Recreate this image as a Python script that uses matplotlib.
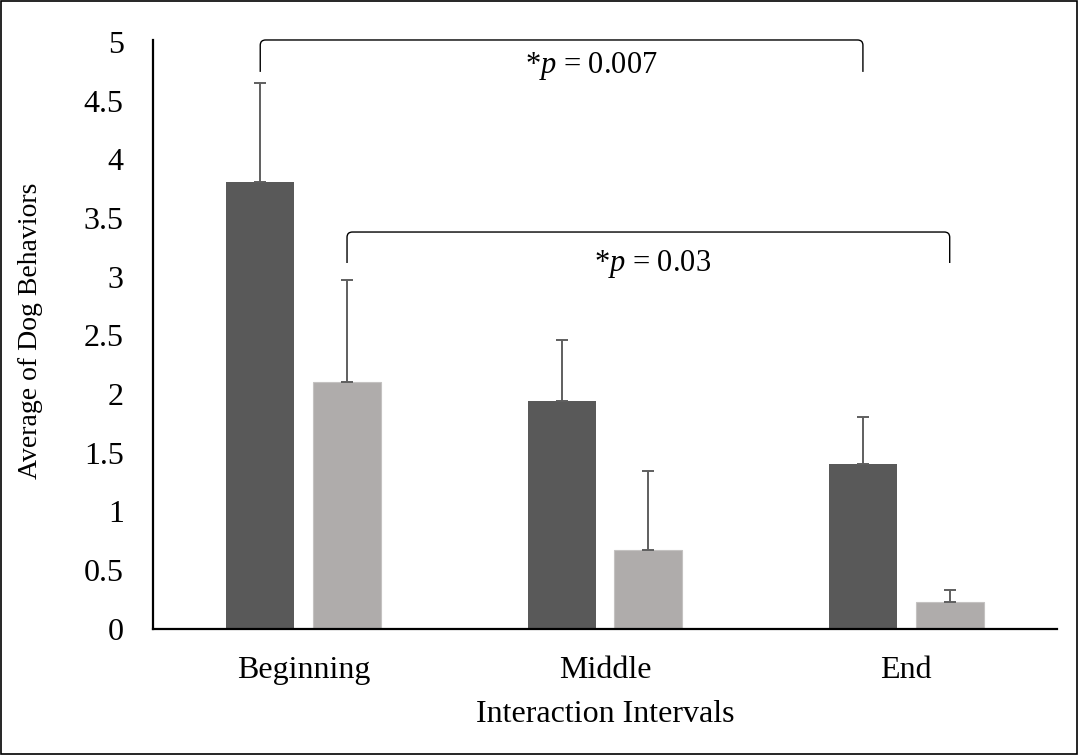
import matplotlib
matplotlib.use("Agg")
import matplotlib.pyplot as plt
import numpy as np
from matplotlib.path import Path
from matplotlib.patches import PathPatch, Rectangle

categories = ["Beginning", "Middle", "End"]
dark_vals = [3.81, 1.94, 1.40]
dark_err = [0.84, 0.52, 0.40]
light_vals = [2.10, 0.67, 0.225]
light_err = [0.87, 0.67, 0.105]
yticks = [0, 0.5, 1, 1.5, 2, 2.5, 3, 3.5, 4, 4.5, 5]
ytick_labels = ["0", "0.5", "1", "1.5", "2", "2.5", "3", "3.5", "4", "4.5", "5"]
annot1 = "*$p$ = 0.007"
annot2 = "*$p$ = 0.03"

plt.rcParams["font.family"] = ["Liberation Serif", "DejaVu Serif"]
plt.rcParams["mathtext.fontset"] = "custom"
plt.rcParams["mathtext.rm"] = "Liberation Serif"
plt.rcParams["mathtext.it"] = "Liberation Serif:italic"

FS = 23
fig = plt.figure(figsize=(10.78, 7.55), dpi=100)
ax = fig.add_axes([0.1419, 0.1675, 0.8386, 0.7769])

x = np.arange(len(categories))
w = 0.226
off = 0.144
dark_c = "#595959"
light_c = "#AFACAB"
err_c = "#5f5f5f"

ax.bar(x - off, dark_vals, width=w, color=dark_c, zorder=2)
ax.bar(x + off, light_vals, width=w, color=light_c, edgecolor="#c4c2c1", linewidth=0.8, zorder=2)
ax.errorbar(x - off, dark_vals, yerr=[np.zeros(3), dark_err], fmt="none",
            ecolor=err_c, elinewidth=1.4, capsize=4.3, capthick=1.4, zorder=3)
ax.errorbar(x + off, light_vals, yerr=[np.zeros(3), light_err], fmt="none",
            ecolor=err_c, elinewidth=1.4, capsize=4.3, capthick=1.4, zorder=3)

ax.set_xlim(-0.5, 2.5)
ax.set_ylim(0, 5)
ax.set_yticks(yticks)
ax.set_yticklabels(ytick_labels)
ax.set_xticks(x)
ax.set_xticklabels(categories)
ax.tick_params(axis="both", length=0, labelsize=FS, colors="black")
ax.tick_params(axis="y", pad=21)
ax.tick_params(axis="x", pad=19.5)
for s in ["top", "right"]:
    ax.spines[s].set_visible(False)
for s in ["left", "bottom"]:
    ax.spines[s].set_linewidth(1.6)
    ax.spines[s].set_color("black")
ax.spines["left"].set_bounds(0, 5.02)

ax.set_xlabel("Interaction Intervals", fontsize=FS, labelpad=11)
ax.set_ylabel("Average of Dog Behaviors", fontsize=20)
ax.yaxis.set_label_coords(-0.1217, 0.508)


def bracket(x0, x1, ytop, ybot, rx=0.018, ry=0.045):
    verts = [(x0, ybot), (x0, ytop - ry), (x0, ytop), (x0 + rx, ytop),
             (x1 - rx, ytop), (x1, ytop), (x1, ytop - ry), (x1, ybot)]
    codes = [Path.MOVETO, Path.LINETO, Path.CURVE3, Path.CURVE3,
             Path.LINETO, Path.CURVE3, Path.CURVE3, Path.LINETO]
    p = PathPatch(Path(verts, codes), facecolor="none", edgecolor="black",
                  linewidth=1.0, clip_on=False, zorder=4)
    ax.add_patch(p)


bracket(x[0] - off, x[2] - off, 5.017, 4.745)
bracket(x[0] + off, x[2] + off, 3.38, 3.116)
ax.text(0.954, 4.733, annot1, fontsize=22, ha="center", va="baseline")
ax.text(1.158, 3.045, annot2, fontsize=22, ha="center", va="baseline")

fig.add_artist(Rectangle((0.0008, 0.0012), 0.9984, 0.9976, transform=fig.transFigure,
                         fill=False, edgecolor="black", linewidth=1.2))

fig.savefig("out.png", dpi=100)
